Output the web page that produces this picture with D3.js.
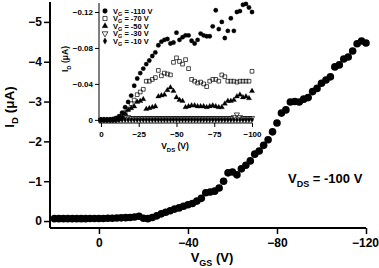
<!DOCTYPE html>
<html>
<head>
<meta charset="utf-8">
<script src="https://cdn.jsdelivr.net/npm/d3@7"></script>
<style>
  body { margin: 0; background: #fff; }
  text { font-family: Arial, "Liberation Sans", sans-serif; font-weight: bold; fill: #000; }
</style>
</head>
<body>
<div id="chart"></div>
<script>
// main curve: I_D vs V_GS at V_DS = -100 V
const vgs = [20, 18, 16, 14, 12, 10, 8, 6, 4, 2, 0, -2, -4, -6, -8, -10, -12, -14, -16, -18,
  -20, -22, -24, -26, -28, -30, -32, -34, -36, -38, -40, -42, -44, -46, -48, -50, -52, -54, -56, -58,
  -60, -62, -64, -66, -68, -70, -72, -74, -76, -78, -80, -82, -84, -86, -88, -90, -92, -94, -96, -98,
  -100, -102, -104, -106, -108, -110, -112, -114, -116, -118, -120];
const idMain = [-0.06, -0.06, -0.06, -0.06, -0.06, -0.06, -0.06, -0.06, -0.065, -0.065, -0.065, -0.065, -0.07, -0.07, -0.075, -0.08, -0.085, -0.09, -0.1, -0.12,
  -0.07, -0.06, -0.09, -0.13, -0.18, -0.22, -0.26, -0.3, -0.33, -0.37, -0.41, -0.44, -0.5, -0.57, -0.71, -0.73, -0.75, -0.83, -1.0, -1.21,
  -1.23, -1.16, -1.31, -1.4, -1.51, -1.68, -1.76, -1.9, -2.04, -2.24, -2.46, -2.71, -2.79, -2.99, -3.0, -2.99, -3.06, -3.1, -3.25, -3.33,
  -3.46, -3.54, -3.62, -3.87, -3.92, -4.07, -4.12, -4.27, -4.45, -4.52, -4.47];

// inset: I_D vs V_DS for several V_G
const vds = [0, -2, -4, -6, -8, -10, -12, -14, -16, -18, -20, -22, -24, -26, -28, -30, -32, -34, -36, -38,
  -40, -42, -44, -46, -48, -50, -52, -54, -56, -58, -60, -62, -64, -66, -68, -70, -72, -74, -76, -78,
  -80, -82, -84, -86, -88, -90, -92, -94, -96, -98, -100];
const idG110 = [0, 0, 0, 0, -0.001, -0.002, -0.004, -0.008, -0.014, -0.02, -0.027, -0.038, -0.046, -0.052, -0.057, -0.062, -0.066, -0.071, -0.075, -0.083,
  -0.087, -0.089, -0.09, -0.085, -0.086, -0.097, -0.089, -0.092, -0.094, -0.094, -0.088, -0.085, -0.089, -0.096, -0.094, -0.093, -0.093, -0.104, -0.122, -0.101,
  -0.109, -0.091, -0.099, -0.113, -0.099, -0.12, -0.121, -0.128, -0.129, -0.125, -0.12];
const idG70 = [0, 0, 0, 0, 0, -0.001, -0.001, -0.004, -0.008, -0.012, -0.018, -0.022, -0.028, -0.031, -0.034, -0.043, -0.043, -0.045, -0.047, -0.055,
  -0.049, -0.052, -0.051, -0.05, -0.064, -0.069, -0.065, -0.062, -0.067, -0.057, -0.045, -0.043, -0.041, -0.042, -0.04, -0.037, -0.043, -0.045, -0.045, -0.043,
  -0.05, -0.048, -0.043, -0.043, -0.043, -0.042, -0.043, -0.043, -0.043, -0.043, -0.054];
const idG50 = [0, 0, 0, 0, 0, 0, -0.001, -0.003, -0.007, -0.011, -0.013, -0.015, -0.02, -0.021, -0.023, -0.012, -0.013, -0.014, -0.015, -0.026,
  -0.027, -0.028, -0.033, -0.036, -0.032, -0.025, -0.022, -0.021, -0.014, -0.015, -0.016, -0.016, -0.015, -0.015, -0.015, -0.014, -0.015, -0.016, -0.015, -0.014,
  -0.014, -0.018, -0.021, -0.021, -0.022, -0.026, -0.028, -0.025, -0.026, -0.024, -0.032];
const idG30 = [0, 0, 0, 0, 0, 0, -0.001, -0.002, -0.003, -0.003, -0.002, -0.002, -0.002, -0.002, -0.002, -0.002, -0.002, -0.002, -0.002, -0.002,
  -0.002, -0.002, -0.002, -0.002, -0.002, -0.002, -0.002, -0.002, -0.002, -0.002, -0.002, -0.002, -0.002, -0.002, -0.002, -0.002, -0.002, -0.002, -0.002, -0.002,
  -0.002, -0.002, -0.002, -0.002, -0.003, -0.006, -0.003, -0.002, -0.002, -0.002, -0.002];
const idG10 = [0, 0, 0, 0, 0, 0, 0, 0, 0, 0, 0, 0, 0, 0, 0, 0, 0, 0, 0, 0,
  0, 0, 0, 0, 0, 0, 0, 0, 0, 0, 0, 0, 0, 0, 0, 0, 0, 0, 0, 0,
  0, 0, 0, 0, 0, 0, 0, 0, 0, 0, 0];

const mainXTicks = [0, -40, -80, -120];
const mainYTicks = [0, -1, -2, -3, -4, -5];
const insetXTicks = [0, -25, -50, -75, -100];
const insetYTicks = [0, -0.04, -0.08, -0.12];
const insetLabels = ["-110 V", "-70 V", "-50 V", "-30 V", "-10 V"];

const width = 379, height = 268;
const svg = d3.select("#chart").append("svg")
  .attr("width", width)
  .attr("height", height);

// main plot
const x = d3.scaleLinear().domain([22, -120]).range([50, 366]);
const y = d3.scaleLinear().domain([0.175, -5.5]).range([228, 2]);

const xAxis = svg.append("g")
  .attr("transform", "translate(0,228)")
  .call(d3.axisBottom(x).tickValues(mainXTicks).tickSize(6).tickPadding(4).tickFormat(d3.format("d")));
const yAxis = svg.append("g")
  .attr("transform", "translate(50,0)")
  .call(d3.axisLeft(y).tickValues(mainYTicks).tickSize(6).tickPadding(2).tickFormat(d3.format("d")));
[xAxis, yAxis].forEach(a => {
  a.select(".domain").attr("stroke-width", 2);
  a.selectAll(".tick line").attr("stroke-width", 1.5);
  a.selectAll("text").style("font-size", "12px").style("font-family", "Arial, 'Liberation Sans', sans-serif").style("font-weight", "bold");
});
xAxis.select(".domain").attr("d", "M50,0H366");
yAxis.select(".domain").attr("d", "M0,228V2");
xAxis.selectAll(".tick text").filter(d => d === -120).attr("dx", -1);

svg.append("g")
  .selectAll("circle")
  .data(vgs.map((v, i) => [v, idMain[i]]))
  .enter()
  .append("circle")
  .attr("cx", d => x(d[0]))
  .attr("cy", d => y(d[1]))
  .attr("r", 3.8)
  .attr("fill", "#000");

const yLab = svg.append("text")
  .attr("transform", "translate(14,107) rotate(-90)")
  .attr("text-anchor", "middle")
  .style("font-size", "13.5px");
yLab.append("tspan").text("I");
yLab.append("tspan").attr("dy", 4).style("font-size", "9.5px").text("D");
yLab.append("tspan").attr("dy", -4).text(" (\u03bcA)");

const xLab = svg.append("text")
  .attr("x", 212)
  .attr("y", 262)
  .attr("text-anchor", "middle")
  .style("font-size", "13px");
xLab.append("tspan").text("V");
xLab.append("tspan").attr("dy", 4).style("font-size", "9px").text("GS");
xLab.append("tspan").attr("dy", -4).text(" (V)");

const note = svg.append("text")
  .attr("x", 288)
  .attr("y", 183)
  .style("font-size", "13px");
note.append("tspan").text("V");
note.append("tspan").attr("dy", 4).style("font-size", "9px").text("DS");
note.append("tspan").attr("dy", -4).text(" = -100 V");

// inset
const ix = d3.scaleLinear().domain([1.3, -100]).range([99, 252]);
const iy = d3.scaleLinear().domain([0.0035, -0.13]).range([123, 3]);
const inset = svg.append("g");

const ixAxis = inset.append("g")
  .attr("transform", "translate(0,123)")
  .call(d3.axisBottom(ix).tickValues(insetXTicks).tickSize(4).tickPadding(4).tickFormat(d3.format("d")));
const iyAxis = inset.append("g")
  .attr("transform", "translate(99,0)")
  .call(d3.axisLeft(iy).tickValues(insetYTicks).tickSize(4).tickPadding(2).tickFormat(d => d === 0 ? "0" : d3.format(".2f")(d)));
[ixAxis, iyAxis].forEach(a => {
  a.selectAll("text").style("font-size", "8px").style("font-family", "Arial, 'Liberation Sans', sans-serif").style("font-weight", "bold");
});
ixAxis.select(".domain").attr("d", "M99,0H252");
iyAxis.select(".domain").attr("d", "M0,123V3");

const series = [
  { data: idG110, type: d3.symbolCircle, size: 15, fill: "#000", rot: 0 },
  { data: idG70, type: d3.symbolSquare, size: 14, fill: "none", rot: 0 },
  { data: idG50, type: d3.symbolTriangle, size: 12, fill: "#000", rot: 0 },
  { data: idG30, type: d3.symbolTriangle, size: 12, fill: "none", rot: 180 },
  { data: idG10, type: d3.symbolDiamond, size: 9, fill: "#000", rot: 0 }
];

series.slice().reverse().forEach(s => {
  inset.append("g")
    .selectAll("path")
    .data(vds.map((v, i) => [v, s.data[i]]))
    .enter()
    .append("path")
    .attr("d", d3.symbol().type(s.type).size(s.size))
    .attr("transform", d => `translate(${ix(d[0])},${iy(d[1])}) rotate(${s.rot})`)
    .attr("fill", s.fill)
    .attr("stroke", "#000")
    .attr("stroke-width", s.fill === "none" ? 0.7 : 0.3);
});

// legend
const legendY = [11, 18.5, 26, 33.5, 41];
series.forEach((s, i) => {
  inset.append("path")
    .attr("d", d3.symbol().type(s.type).size(s.size + 3))
    .attr("transform", `translate(105,${legendY[i]}) rotate(${s.rot})`)
    .attr("fill", s.fill)
    .attr("stroke", "#000")
    .attr("stroke-width", s.fill === "none" ? 0.7 : 0.3);
  const t = inset.append("text")
    .attr("x", 113)
    .attr("y", legendY[i] + 2.5)
    .style("font-size", "7.5px");
  t.append("tspan").text("V");
  t.append("tspan").attr("dy", 2).style("font-size", "5.5px").text("G");
  t.append("tspan").attr("dy", -2).text(" = " + insetLabels[i]);
});

const iyLab = inset.append("text")
  .attr("transform", "translate(68,59) rotate(-90)")
  .attr("text-anchor", "middle")
  .style("font-size", "8.5px");
iyLab.append("tspan").text("I");
iyLab.append("tspan").attr("dy", 2.5).style("font-size", "6px").text("D");
iyLab.append("tspan").attr("dy", -2.5).text(" (\u03bcA)");

const ixLab = inset.append("text")
  .attr("x", 175)
  .attr("y", 149)
  .attr("text-anchor", "middle")
  .style("font-size", "8.5px");
ixLab.append("tspan").text("V");
ixLab.append("tspan").attr("dy", 2.5).style("font-size", "6px").text("DS");
ixLab.append("tspan").attr("dy", -2.5).text(" (V)");
</script>
</body>
</html>
